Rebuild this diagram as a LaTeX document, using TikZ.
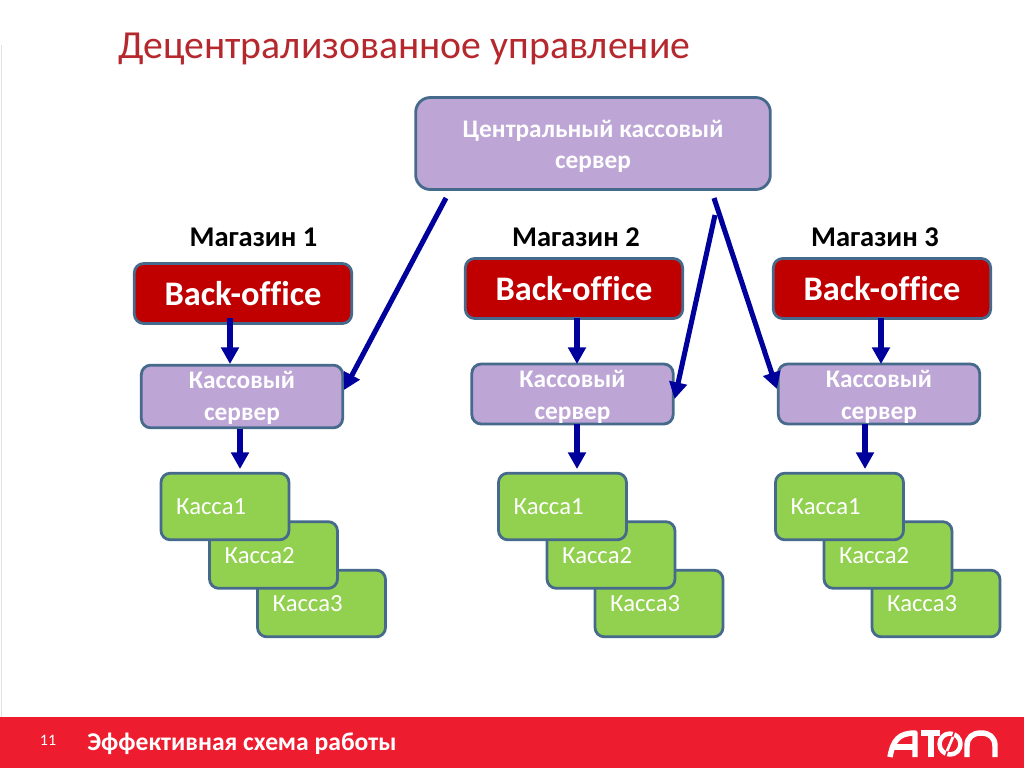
\documentclass[tikz,border=0pt]{standalone}
\usepackage{fontspec}
\setmainfont{Carlito}[Ligatures=NoCommon]
\usetikzlibrary{arrows.meta}
\definecolor{lilac}{HTML}{BDA5D6}
\definecolor{edgeblue}{HTML}{466A8C}
\definecolor{darkred}{HTML}{C00000}
\definecolor{kgreen}{HTML}{92D050}
\definecolor{arrowblue}{HTML}{00009C}
\definecolor{barred}{HTML}{ED1C2E}
\definecolor{titlered}{HTML}{B5282E}
\newcommand{\lowr}[2][1.5pt]{\raisebox{-#1}[.7em][.2em]{#2}}
\tikzset{
  x=0.75pt,y=-0.75pt,
  boxbase/.style={draw=edgeblue,line width=2.1pt,rounded corners=7pt,anchor=center,inner sep=0pt,align=center},
  centralbox/.style={boxbase,fill=lilac,text=white,minimum width=266pt,minimum height=69pt,rounded corners=11pt,font=\fontsize{19}{23.3}\selectfont\bfseries},
  officebox/.style={boxbase,fill=darkred,text=white,minimum width=163pt,minimum height=45pt,font=\fontsize{25.8}{30}\selectfont\bfseries},
  srvbox/.style={boxbase,fill=lilac,text=white,minimum width=151pt,minimum height=47pt,font=\fontsize{19}{24}\selectfont\bfseries},
  srvboxlow/.style={srvbox,minimum height=45pt},
  cashbox/.style={boxbase,fill=kgreen,text=white,minimum width=96pt,minimum height=50pt,font=\fontsize{18.5}{22}\selectfont,align=left,text width=73.5pt},
  shoplabel/.style={text=black,font=\fontsize{21.4}{25}\selectfont\bfseries,inner sep=0pt},
  flow/.style={draw=arrowblue,line width=3.8pt,-{Triangle[length=12.5pt,width=13pt]}},
  logoline/.style={draw=white,line width=4.1pt,line join=round},
}
\begin{document}
\begin{tikzpicture}
\useasboundingbox (0,0) rectangle (1024,768);
\fill[white] (0,0) rectangle (1024,768);
\draw[black!12,line width=0.75pt] (1,45) -- (1,717);
\node[anchor=base west,inner sep=0pt,text=titlered,font=\fontsize{29.8}{34}\selectfont] (title) at (118,58) {Децентрализованное управление};

\node[centralbox] (central) at (593,143.5) {\lowr[2.2pt]{Центральный кассовый}\\\lowr[2.2pt]{сервер}};
\coordinate (c1) at (446,198);
\coordinate (c2) at (715,215);
\coordinate (c3) at (714,198);

% shop 1
\node[shoplabel] (m1) at (253.5,237) {Магазин 1};
\node[officebox] (o1) at (243,293.5) {Back-office};
\node[srvbox] (s1) at (242,396.5) {\lowr{Кассовый}\\\lowr{сервер}};
\node[cashbox] (k13) at (321.5,603.5) {\lowr{Касса3}};
\node[cashbox] (k12) at (273.5,555) {\lowr{Касса2}};
\node[cashbox] (k11) at (225,506.5) {\lowr{Касса1}};
% shop 2
\node[shoplabel] (m2) at (576,237.5) {Магазин 2};
\node[officebox] (o2) at (574,288.5) {Back-office};
\node[srvboxlow] (s2) at (572.5,394) {\lowr[2.6pt]{Кассовый}\\\lowr[2.6pt]{сервер}};
\node[cashbox] (k23) at (659,603.5) {\lowr{Касса3}};
\node[cashbox] (k22) at (611,555) {\lowr{Касса2}};
\node[cashbox] (k21) at (562.5,506.5) {\lowr{Касса1}};
% shop 3
\node[shoplabel] (m3) at (875,237.5) {Магазин 3};
\node[officebox] (o3) at (882,288.5) {Back-office};
\node[srvboxlow] (s3) at (879,394) {\lowr[2.6pt]{Кассовый}\\\lowr[2.6pt]{сервер}};
\node[cashbox] (k33) at (936,603.5) {\lowr{Касса3}};
\node[cashbox] (k32) at (888,555) {\lowr{Касса2}};
\node[cashbox] (k31) at (839.5,506.5) {\lowr{Касса1}};

\draw[flow] (230,318) -- (230,364);
\draw[flow] (577,318) -- (577,364);
\draw[flow] (881,318) -- (881,364);
\draw[flow] (240,429) -- (240,469);
\draw[flow] (577,424) -- (577,469);
\draw[flow] (865,424) -- (865,469);
\draw[flow] (c1) -- (s1.east |- 0,390);
\draw[flow] (c2) -- (s2.east |- 0,399);
\draw[flow] (c3) -- (s3.west |- 0,389);

% footer
\fill[barred] (0,717) rectangle (1024,768);
\node[anchor=base,inner sep=0pt,text=white,font=\fontsize{12}{14}\selectfont] (pg) at (48,745) {11};
\node[anchor=base west,inner sep=0pt,text=white,font=\fontsize{19.2}{22}\selectfont\bfseries] (foot) at (87,750) {Эффективная схема работы};
% logo
\draw[logoline] (890,757) .. controls (893,740) and (899,733) .. (915,733) -- (915,757);
\draw[logoline] (892,747) -- (915,747);
\draw[logoline] (921,733) -- (940,733);
\draw[logoline] (931,733) -- (931,757);
\draw[logoline,line width=3.4pt] (950,744) circle[radius=10.5];
\draw[barred,line width=1.2pt] (945,758) -- (955,730);
\draw[logoline,line width=2pt] (947,751) -- (953,737);
\draw[logoline] (967,757) -- (967,746) .. controls (967,737) and (973,733) .. (981,733) .. controls (989,733) and (995,737) .. (995,746) -- (995,757);
\end{tikzpicture}
\end{document}
